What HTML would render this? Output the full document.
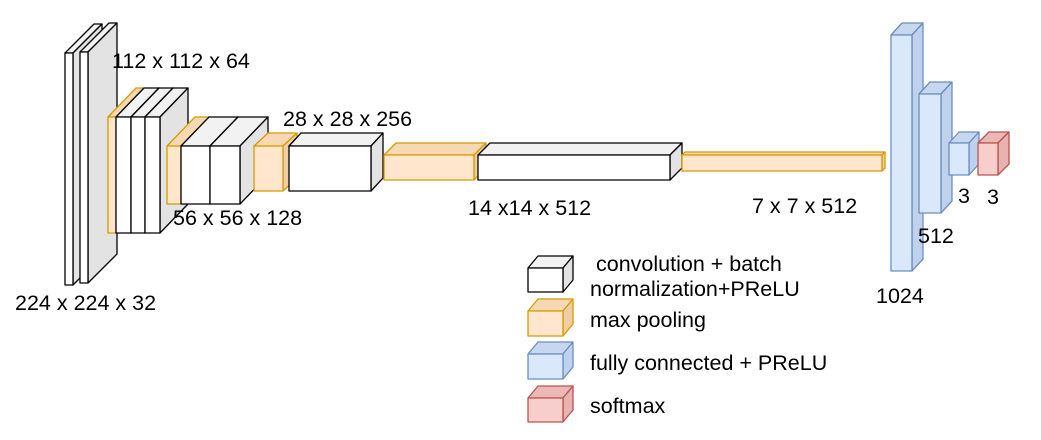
<!DOCTYPE html>
<html><head><meta charset="utf-8"><style>
html,body{margin:0;padding:0;background:#fff;width:1041px;height:440px;overflow:hidden}
svg text{font-family:"Liberation Sans",sans-serif;font-size:21.5px;fill:#000}
</style></head><body>
<svg id="s" width="1041" height="440" xmlns="http://www.w3.org/2000/svg"></svg>
<script>
const s=document.getElementById('s');
const C={w:['#ffffff','#f2f2f2','#e3e3e3','#000'],o:['#ffe6cc','#f7d8b5','#efcda6','#d79b00'],
b:['#dae8fc','#c6d7ef','#bfd1ec','#6c8ebf'],r:['#f8cecc','#ebb8b6','#e8b2b0','#b85450']};
let h='';
function cube(x,y,w,hh,dx,dy,c){const k=C[c];const a=`stroke="${k[3]}" stroke-width="1.3" stroke-linejoin="round"`;
h+=`<polygon points="${x},${y} ${x+dx},${y-dy} ${x+w+dx},${y-dy} ${x+w},${y}" fill="${k[1]}" ${a}/>`;
h+=`<polygon points="${x+w},${y} ${x+w+dx},${y-dy} ${x+w+dx},${y+hh-dy} ${x+w},${y+hh}" fill="${k[2]}" ${a}/>`;
h+=`<rect x="${x}" y="${y}" width="${w}" height="${hh}" fill="${k[0]}" ${a}/>`;}
function t(x,y,str){h+=`<text x="${x}" y="${y}">${str}</text>`;}
cube(65,53,8,232,29,29,'w');cube(80,52,8,231,29,29,'w');
cube(108,117,8,116,28,29,'o');cube(116,117,15,116,28,29,'w');cube(131,117,14,116,28,29,'w');cube(145,117,15,116,28,29,'w');
cube(167,146,14,58,28,29,'o');cube(181,146,29,58,28,29,'w');cube(210,146,30,58,28,29,'w');
cube(254,146,29,45,14,13,'o');cube(289,146,82,45,12,13,'w');
cube(384,155,90,25,12,12,'o');cube(478,155,192,25,12,12,'w');
cube(682,155,200,16,3,3,'o');
cube(891,35,21,236,11,12,'b');cube(919,94,22,119,11,12,'b');cube(949,143,20,32,10,11,'b');cube(978,143,20,32,11,11,'r');
t(15,310,'224 x 224 x 32');t(112,68,'112 x 112 x 64');t(173,225,'56 x 56 x 128');t(283,126,'28 x 28 x 256');
t(468,215,'14 x14 x 512');t(752,213,'7 x 7 x 512');t(876,303,'1024');t(918,243,'512');t(958,203,'3');t(987,204,'3');
cube(528,268,35,24,10,12,'w');cube(528,311,35,25,10,12,'o');cube(528,354,35,25,10,12,'b');cube(528,398,35,24,10,12,'r');
t(596,271,'convolution + batch');t(590,296,'normalization+PReLU');t(590,327,'max pooling');t(590,370,'fully connected + PReLU');t(590,413,'softmax');
s.innerHTML=h;
</script>
</body></html>
